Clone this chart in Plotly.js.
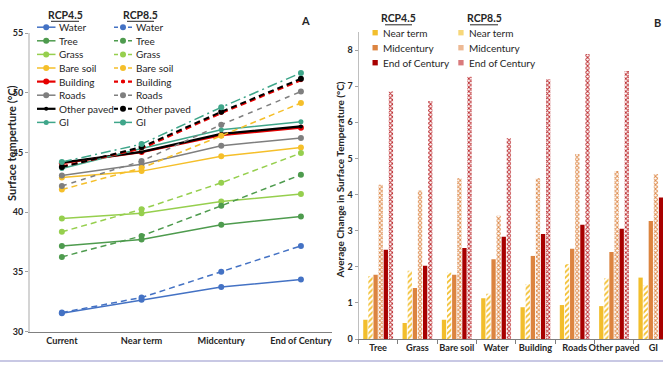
<!DOCTYPE html>
<html><head><meta charset="utf-8">
<script src="https://cdn.plot.ly/plotly-3.0.1.min.js"></script>
<style>html,body{margin:0;padding:0;background:#fff}#chart{width:663px;height:367px}</style>
</head><body><div id="chart"></div>
<script>
// ---------- DATA ----------
const periods = ['Current', 'Near term', 'Midcentury', 'End of Century'];
const surfaces = ['Water', 'Tree', 'Grass', 'Bare soil', 'Building', 'Roads', 'Other paved', 'GI'];

// Panel A: surface temperature (°C), RCP4.5
const water45 = [31.54, 32.67, 33.74, 34.36];
const tree45 = [37.18, 37.71, 38.95, 39.65];
const grass45 = [39.47, 39.92, 40.89, 41.52];
const bareSoil45 = [42.90, 43.44, 44.68, 45.42];
const building45 = [44.10, 45.03, 46.45, 47.08];
const roads45 = [43.08, 44.02, 45.56, 46.22];
const otherPaved45 = [44.15, 45.05, 46.55, 47.18];
const gi45 = [43.66, 45.33, 46.90, 47.57];
// Panel A: RCP8.5
const water85 = [31.60, 32.86, 35.02, 37.18];
const tree85 = [36.26, 38.01, 40.54, 43.13];
const grass85 = [38.36, 40.24, 42.46, 44.95];
const bareSoil85 = [41.90, 43.70, 46.40, 49.14];
const building85 = [43.83, 45.33, 48.30, 51.05];
const roads85 = [42.20, 44.28, 47.32, 50.10];
const otherPaved85 = [43.78, 45.45, 48.40, 51.17];
const gi85 = [44.20, 45.70, 48.78, 51.66];

// Panel B: average change in surface temperature (°C)
const barCategories = ['Tree', 'Grass', 'Bare soil', 'Water', 'Building', 'Roads', 'Other paved', 'GI'];
const nearTerm45 = [0.53, 0.44, 0.53, 1.13, 0.88, 0.94, 0.91, 1.70];
const nearTerm85 = [1.74, 1.89, 1.84, 1.25, 1.52, 2.07, 1.68, 1.49];
const midcentury45 = [1.78, 1.41, 1.78, 2.21, 2.30, 2.50, 2.41, 3.27];
const midcentury85 = [4.27, 4.11, 4.46, 3.41, 4.46, 5.12, 4.65, 4.57];
const endCentury45 = [2.47, 2.03, 2.52, 2.83, 2.91, 3.16, 3.05, 3.92];
const endCentury85 = [6.85, 6.59, 7.26, 5.56, 7.19, 7.89, 7.42, 7.53];

// ---------- STYLES ----------
const W = 663, H = 367;
const px = x => x / W;
const py = y => 1 - y / H;
const FONT = 'Lato, "Open Sans", sans-serif';
const TXT = '#262626';

const series45 = [water45, tree45, grass45, bareSoil45, building45, roads45, otherPaved45, gi45];
const series85 = [water85, tree85, grass85, bareSoil85, building85, roads85, otherPaved85, gi85];
const colors = ['#4472C4', '#4E9B4E', '#96CF4E', '#F5BF2A', '#E60000', '#7F7F7F', '#000000', '#3FA68A'];
const width45 = [1.5, 1.5, 1.5, 1.5, 2.2, 1.5, 2.2, 1.5];
const msize45 = [6, 6, 6, 6, 6, 6, 4, 5];
const width85 = [1.5, 1.5, 1.5, 1.5, 2.2, 1.5, 2.0, 1.5];
const msize85 = [6, 6, 6, 6, 4, 6, 6, 6];
const dash85 = ['6px,4px', '6px,4px', '6px,4px', '6px,4px', '6px,4px', '5px,5px', '6px,4px', '10px,4px,2px,4px'];

const traces = [];
for (let i = 0; i < surfaces.length; i++) {
  traces.push({
    type: 'scatter', mode: 'lines+markers', x: periods, y: series45[i],
    name: surfaces[i] + ' RCP4.5', showlegend: false, xaxis: 'x', yaxis: 'y',
    line: {color: colors[i], width: width45[i]},
    marker: {color: colors[i], size: msize45[i]}
  });
}
for (let i = 0; i < surfaces.length; i++) {
  traces.push({
    type: 'scatter', mode: 'lines+markers', x: periods, y: series85[i],
    name: surfaces[i] + ' RCP8.5', showlegend: false, xaxis: 'x', yaxis: 'y',
    line: {color: colors[i], width: width85[i], dash: dash85[i]},
    marker: {color: colors[i], size: msize85[i]}
  });
}

const cNear = '#F2BE2C', cMid = '#DC8440', cEnd = '#A80000';
const barSpecs = [
  {y: nearTerm45, name: 'Near term RCP4.5', marker: {color: cNear}},
  {y: nearTerm85, name: 'Near term RCP8.5', marker: {color: 'white', pattern: {shape: '/', fgcolor: cNear, bgcolor: 'white', size: 4, solidity: 0.45}}},
  {y: midcentury45, name: 'Midcentury RCP4.5', marker: {color: cMid}},
  {y: midcentury85, name: 'Midcentury RCP8.5', marker: {color: 'white', pattern: {shape: 'x', fgcolor: cMid, bgcolor: 'white', size: 3, solidity: 0.5}}},
  {y: endCentury45, name: 'End of Century RCP4.5', marker: {color: cEnd}},
  {y: endCentury85, name: 'End of Century RCP8.5', marker: {color: 'white', pattern: {shape: 'x', fgcolor: '#BA2226', bgcolor: 'white', size: 3, solidity: 0.5}}}
];
barSpecs.forEach(b => {
  b.marker.line = {width: 0};
  traces.push(Object.assign({type: 'bar', x: barCategories, xaxis: 'x2', yaxis: 'y2', showlegend: false}, b));
});

// ---------- LEGENDS / ANNOTATIONS ----------
const annotations = [];
const shapes = [];
function txt(x, y, text, opts) {
  annotations.push(Object.assign({xref: 'paper', yref: 'paper', x: px(x), y: py(y), text: text, showarrow: false,
    xanchor: 'left', yanchor: 'middle', font: {family: FONT, size: 10, color: TXT}}, opts || {}));
}
const hdrFont = {family: FONT, size: 10.5, color: TXT};
// Panel A legend
txt(65, 14.8, '<b>RCP4.5</b>', {xanchor: 'center', font: hdrFont});
txt(140.5, 14.8, '<b>RCP8.5</b>', {xanchor: 'center', font: hdrFont});
shapes.push({type: 'line', xref: 'paper', yref: 'paper', x0: px(51), x1: px(79), y0: py(21.3), y1: py(21.3), line: {color: TXT, width: 1}});
shapes.push({type: 'line', xref: 'paper', yref: 'paper', x0: px(127), x1: px(154), y0: py(21.3), y1: py(21.3), line: {color: TXT, width: 1}});
for (let i = 0; i < surfaces.length; i++) {
  const y = 27.2 + i * 13.6;
  // RCP4.5
  shapes.push({type: 'line', xref: 'paper', yref: 'paper', x0: px(37), x1: px(55.5), y0: py(y), y1: py(y), line: {color: colors[i], width: width45[i]}});
  const r1 = msize45[i] / 2;
  shapes.push({type: 'circle', xref: 'paper', yref: 'paper', x0: px(46.2 - r1), x1: px(46.2 + r1), y0: py(y + r1), y1: py(y - r1), fillcolor: colors[i], line: {width: 0}});
  txt(57, y, surfaces[i]);
  // RCP8.5
  shapes.push({type: 'line', xref: 'paper', yref: 'paper', x0: px(114), x1: px(132), y0: py(y), y1: py(y), line: {color: colors[i], width: width85[i], dash: i === 7 ? 'solid' : '4px,3px'}});
  const r2 = msize85[i] / 2;
  shapes.push({type: 'circle', xref: 'paper', yref: 'paper', x0: px(123 - r2), x1: px(123 + r2), y0: py(y + r2), y1: py(y - r2), fillcolor: colors[i], line: {width: 0}});
  txt(134, y, surfaces[i]);
}
// Panel B legend
txt(398.5, 18.2, '<b>RCP4.5</b>', {xanchor: 'center', font: hdrFont});
txt(484, 18.2, '<b>RCP8.5</b>', {xanchor: 'center', font: hdrFont});
shapes.push({type: 'line', xref: 'paper', yref: 'paper', x0: px(385), x1: px(412), y0: py(24.8), y1: py(24.8), line: {color: TXT, width: 1}});
shapes.push({type: 'line', xref: 'paper', yref: 'paper', x0: px(470), x1: px(498), y0: py(24.8), y1: py(24.8), line: {color: TXT, width: 1}});
const bLeg = [['Near term', cNear, '#F7D77A'], ['Midcentury', cMid, '#EDB994'], ['End of Century', cEnd, '#D97A7C']];
bLeg.forEach((e, i) => {
  const y = 32.7 + i * 15;
  shapes.push({type: 'rect', xref: 'paper', yref: 'paper', x0: px(372.5), x1: px(377.8), y0: py(y + 2.7), y1: py(y - 2.7), fillcolor: e[1], line: {width: 0}});
  txt(380.5, y, e[0]);
  shapes.push({type: 'rect', xref: 'paper', yref: 'paper', x0: px(458.3), x1: px(463.6), y0: py(y + 2.7), y1: py(y - 2.7), fillcolor: e[2], line: {width: 0}});
  txt(466.5, y, e[0]);
});
// Axis titles and panel labels
txt(11, 143, '<b>Surface temperture (°C)</b>', {xanchor: 'center', textangle: -90, font: {family: FONT, size: 11, color: TXT}});
txt(339.5, 180, '<b>Average Change in Surface Temperature (°C)</b>', {xanchor: 'center', textangle: -90, font: {family: FONT, size: 10, color: TXT}});
txt(305, 20, '<b>A</b>', {xanchor: 'center', font: {family: FONT, size: 11, color: TXT}});
txt(657, 22, '<b>B</b>', {xanchor: 'center', font: {family: FONT, size: 11, color: TXT}});
// Bottom frame line
shapes.push({type: 'line', xref: 'paper', yref: 'paper', x0: 0, x1: 1, y0: py(361), y1: py(361), line: {color: '#C8C8E4', width: 2}});

const tickFont = {family: FONT, size: 9, color: TXT, weight: 'bold'};
const catFont = {family: FONT, size: 9.2, color: TXT, weight: 'bold'};

const layout = {
  width: W, height: H,
  margin: {l: 0, r: 0, t: 0, b: 0},
  paper_bgcolor: 'white', plot_bgcolor: 'white',
  showlegend: false,
  barmode: 'group', bargap: 0.22, bargroupgap: 0.16,
  xaxis: {domain: [px(30), px(332)], range: [-0.4, 3.39], type: 'category',
    showline: true, linecolor: '#808080', linewidth: 1.5, showgrid: false, zeroline: false,
    ticks: '', tickangle: 0, tickfont: catFont, automargin: false, fixedrange: true},
  yaxis: {domain: [py(331.7), py(33)], range: [30, 55], dtick: 5,
    showline: true, linecolor: '#D4D4D4', linewidth: 2, showgrid: false, zeroline: false,
    ticks: 'outside', ticklen: 3, tickcolor: '#A0A0A0', tickfont: tickFont, automargin: false},
  xaxis2: {domain: [px(358.5), 1], range: [-0.5, 7.245], type: 'category', anchor: 'y2',
    showline: true, linecolor: '#7F7F7F', linewidth: 1.2, showgrid: false, zeroline: false,
    ticks: 'outside', tickson: 'boundaries', ticklen: 4, tickcolor: '#7F7F7F',
    tickangle: 0, tickfont: catFont, automargin: false},
  yaxis2: {domain: [py(339), py(32)], range: [0, 8.5], dtick: 1, anchor: 'x2',
    showline: true, linecolor: '#BFBFBF', linewidth: 1, showgrid: false, zeroline: false,
    ticks: 'outside', ticklen: 3, tickcolor: '#A0A0A0', tickfont: tickFont, automargin: false},
  annotations: annotations,
  shapes: shapes
};

Plotly.newPlot('chart', traces, layout, {displayModeBar: false, staticPlot: true});
</script>
</body></html>
